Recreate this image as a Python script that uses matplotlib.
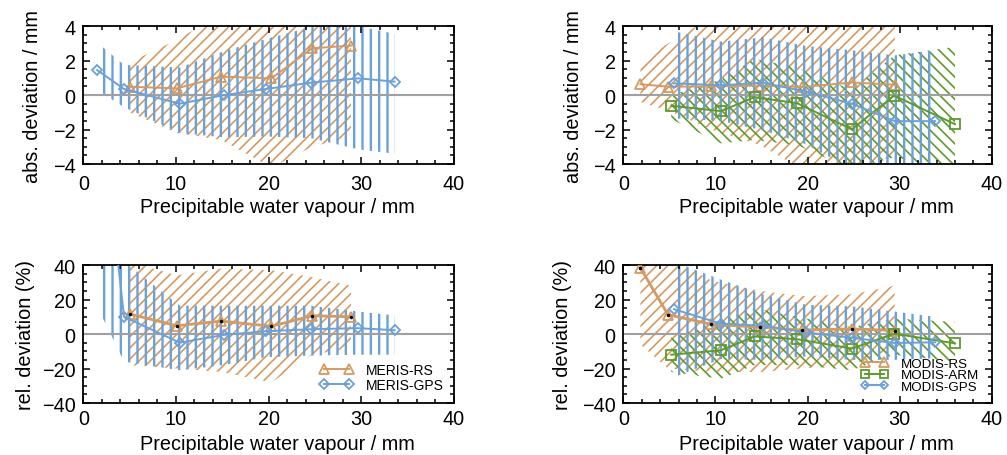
import numpy as np
import matplotlib
matplotlib.use('Agg')
import matplotlib.pyplot as plt
from matplotlib.ticker import MultipleLocator
from matplotlib.lines import Line2D

plt.rcParams['font.family'] = ['Liberation Sans', 'DejaVu Sans']
plt.rcParams['hatch.linewidth'] = 1.3

ORANGE = '#D49A62'
BLUE = '#6CA0D8'
GREEN = '#5E9A2C'
GREY = '#A0A0A0'
FS = 14.3

# ---- MERIS (left column) ----
meris_rs_x = [5.0, 10.1, 14.9, 20.3, 24.7, 28.9]
meris_rs_abs = [0.48, 0.39, 1.07, 0.97, 2.71, 2.87]
meris_rs_abs_lo = [-1.0, -2.2, -2.6, -4.2, -3.0, -2.4]
meris_rs_abs_hi = [1.9, 3.2, 4.7, 6.0, 7.0, 7.0]
meris_rs_rel = [11.6, 4.8, 7.5, 4.5, 10.6, 10.0]
meris_rs_rel_lo = [-18, -20, -22, -28, -12, -8]
meris_rs_rel_hi = [42, 34, 38, 37, 33, 28]

meris_gps_x = [1.5, 4.4, 10.4, 15.2, 19.7, 24.6, 29.7, 33.6]
meris_gps_abs = [1.45, 0.35, -0.5, 0.0, 0.35, 0.72, 0.97, 0.78]
meris_gps_abs_lo = [0.3, -0.7, -2.2, -2.45, -2.4, -2.5, -3.15, -3.4]
meris_gps_abs_hi = [3.05, 1.75, 1.6, 2.55, 3.25, 3.95, 4.0, 3.55]
meris_gps_rel = [150, 10, -5, -0.5, 1.6, 2.8, 3.4, 2.2]
meris_gps_rel_lo = [16, -16, -21, -18, -13.4, -12.5, -12, -12]
meris_gps_rel_hi = [250, 42, 16.5, 16.4, 16.4, 16.4, 13, 10.8]

# ---- MODIS (right column) ----
modis_rs_x = [1.85, 4.85, 9.55, 14.85, 19.4, 24.85, 29.45]
modis_rs_abs = [0.63, 0.49, 0.5, 0.55, 0.47, 0.73, 0.6]
modis_rs_abs_lo = [-0.4, -0.9, -2.0, -2.9, -4.3, -4.3, -3.5]
modis_rs_abs_hi = [1.9, 3.0, 4.5, 5.0, 5.0, 5.0, 5.0]
modis_rs_rel = [38.4, 11.2, 5.6, 4.0, 2.3, 3.0, 2.0]
modis_rs_rel_lo = [-6, -20, -22, -22, -20, -18, -8]
modis_rs_rel_hi = [85, 45, 31, 25, 22, 23, 28]

modis_arm_x = [5.2, 10.6, 14.25, 18.85, 24.8, 29.4, 36.0]
modis_arm_abs = [-0.62, -0.93, -0.12, -0.47, -1.98, -0.03, -1.69]
modis_arm_abs_lo = [-1.4, -2.8, -2.6, -2.9, -4.3, -3.6, -4.4]
modis_arm_abs_hi = [0.0, 0.9, 2.1, 1.6, 0.3, 2.3, 2.8]
modis_arm_rel = [-12, -9.4, -1.4, -3.0, -8.4, 0.2, -5.4]
modis_arm_rel_lo = [-22, -26, -18, -18, -21, -12, -16]
modis_arm_rel_hi = [-2, 8, 15, 10, 4, 9, 7]

modis_gps_x = [5.5, 10.6, 15.15, 19.8, 24.8, 29.45, 33.85]
modis_gps_abs = [0.68, 0.57, 0.72, 0.2, -0.5, -1.51, -1.51]
modis_gps_abs_lo = [-1.35, -1.5, -2.05, -2.85, -4.3, -5.0, -5.0]
modis_gps_abs_hi = [3.7, 3.1, 3.35, 2.85, 2.6, 2.3, 2.6]
modis_gps_rel = [14.4, 6.0, 4.8, 1.0, -2.2, -5.2, -4.8]
modis_gps_rel_lo = [-25, -14.5, -15, -13, -15, -15, -14]
modis_gps_rel_hi = [42, 31.5, 23, 17, 16, 13, 10]

xlabel = 'Precipitable water vapour / mm'
HATCH_RS = '///'
HATCH_ARM = '\\\\\\'
HATCH_GPS = '||'


def band(ax, x, lo, hi, color, hatch, lw):
    with plt.rc_context({'hatch.linewidth': lw}):
        coll = ax.fill_between(x, lo, hi, facecolor='none', edgecolor=color,
                               hatch=hatch, linewidth=0, zorder=1)
    if hasattr(coll, 'set_hatch_linewidth'):
        coll.set_hatch_linewidth(lw)
    return coll


def series(ax, x, y, color, marker, ms, lw=1.4, dots=False):
    ax.plot(x, y, color=color, lw=lw, marker=marker, ms=ms, mfc='none',
            mec=color, mew=1.3, zorder=4)
    if dots:
        ax.plot(x, y, ls='none', marker='.', ms=3, color='black', zorder=5)


def style(ax, lim, major, minor, ylabel, xlab_y, ylab_x, xpad):
    ax.set_xlim(0, 40)
    ax.set_ylim(-lim, lim)
    ax.xaxis.set_major_locator(MultipleLocator(10))
    ax.xaxis.set_minor_locator(MultipleLocator(2))
    ax.yaxis.set_major_locator(MultipleLocator(major))
    ax.yaxis.set_minor_locator(MultipleLocator(minor))
    ax.tick_params(which='both', direction='in', top=True, right=True, width=1.1)
    ax.tick_params(which='major', length=5, labelsize=FS)
    ax.tick_params(which='minor', length=2.6)
    ax.tick_params(axis='x', pad=xpad)
    ax.tick_params(axis='y', pad=5.5)
    for s in ax.spines.values():
        s.set_linewidth(1.3)
    ax.axhline(0, color=GREY, lw=1.5, zorder=2)
    ax.set_xlabel(xlabel, fontsize=FS, va='baseline')
    ax.xaxis.set_label_coords(0.524, xlab_y)
    ax.set_ylabel(ylabel, fontsize=FS, va='center')
    ax.yaxis.set_label_coords(ylab_x, 0.5)


fig = plt.figure(figsize=(10.07, 4.56), dpi=100)
ax1 = fig.add_axes([0.0827, 0.638, 0.368, 0.3026])
ax2 = fig.add_axes([0.619, 0.638, 0.366, 0.3026])
ax3 = fig.add_axes([0.0827, 0.114, 0.368, 0.3026])
ax4 = fig.add_axes([0.619, 0.114, 0.366, 0.3026])

# top left
band(ax1, meris_rs_x, meris_rs_abs_lo, meris_rs_abs_hi, ORANGE, HATCH_RS, 1.2)
band(ax1, meris_gps_x, meris_gps_abs_lo, meris_gps_abs_hi, BLUE, HATCH_GPS, 1.7)
series(ax1, meris_rs_x, meris_rs_abs, ORANGE, '^', 7.5)
series(ax1, meris_gps_x, meris_gps_abs, BLUE, 'D', 5)
style(ax1, 4, 2, 0.5, 'abs. deviation / mm', -0.35, -0.136, 7)

# top right
band(ax2, modis_rs_x, modis_rs_abs_lo, modis_rs_abs_hi, ORANGE, HATCH_RS, 1.2)
band(ax2, modis_arm_x, modis_arm_abs_lo, modis_arm_abs_hi, GREEN, HATCH_ARM, 1.2)
band(ax2, modis_gps_x, modis_gps_abs_lo, modis_gps_abs_hi, BLUE, HATCH_GPS, 1.7)
series(ax2, modis_rs_x, modis_rs_abs, ORANGE, '^', 7.5)
series(ax2, modis_arm_x, modis_arm_abs, GREEN, 's', 6.5)
series(ax2, modis_gps_x, modis_gps_abs, BLUE, 'D', 5)
style(ax2, 4, 2, 0.5, 'abs. deviation / mm', -0.35, -0.1365, 7)

# bottom left
band(ax3, meris_rs_x, meris_rs_rel_lo, meris_rs_rel_hi, ORANGE, HATCH_RS, 1.2)
band(ax3, meris_gps_x, meris_gps_rel_lo, meris_gps_rel_hi, BLUE, HATCH_GPS, 1.7)
series(ax3, meris_rs_x, meris_rs_rel, ORANGE, '^', 7.5, lw=2, dots=True)
series(ax3, meris_gps_x, meris_gps_rel, BLUE, 'D', 5)
style(ax3, 40, 20, 5, 'rel. deviation (%)', -0.335, -0.155, 4)
h3 = [Line2D([], [], color=ORANGE, lw=1.4, marker='^', ms=7.5, mfc='none', mew=1.3),
      Line2D([], [], color=BLUE, lw=1.4, marker='D', ms=5, mfc='none', mew=1.3)]
ax3.legend(h3, ['MERIS-RS', 'MERIS-GPS'], loc='upper left',
           bbox_to_anchor=(0.638, 0.29), borderaxespad=0, borderpad=0,
           frameon=False, numpoints=2, fontsize=10, handlelength=2.4,
           handletextpad=0.9, labelspacing=0.05)

# bottom right
band(ax4, modis_rs_x, modis_rs_rel_lo, modis_rs_rel_hi, ORANGE, HATCH_RS, 1.2)
band(ax4, modis_arm_x, modis_arm_rel_lo, modis_arm_rel_hi, GREEN, HATCH_ARM, 1.2)
band(ax4, modis_gps_x, modis_gps_rel_lo, modis_gps_rel_hi, BLUE, HATCH_GPS, 1.7)
series(ax4, modis_rs_x, modis_rs_rel, ORANGE, '^', 7.5, lw=2, dots=True)
series(ax4, modis_arm_x, modis_arm_rel, GREEN, 's', 6.5)
series(ax4, modis_gps_x, modis_gps_rel, BLUE, 'D', 5)
style(ax4, 40, 20, 5, 'rel. deviation (%)', -0.335, -0.166, 4)
h4 = [Line2D([], [], color=ORANGE, lw=1.4, marker='^', ms=7, mfc='none', mew=1.3),
      Line2D([], [], color=GREEN, lw=1.4, marker='s', ms=6, mfc='none', mew=1.3),
      Line2D([], [], color=BLUE, lw=1.4, marker='D', ms=4.5, mfc='none', mew=1.3)]
ax4.legend(h4, ['MODIS-RS', 'MODIS-ARM', 'MODIS-GPS'], loc='upper left',
           bbox_to_anchor=(0.645, 0.33), borderaxespad=0, borderpad=0,
           frameon=False, numpoints=2, fontsize=9.6, handlelength=2.0,
           handletextpad=0.95, labelspacing=-0.05)

fig.savefig('out.png', dpi=100)
